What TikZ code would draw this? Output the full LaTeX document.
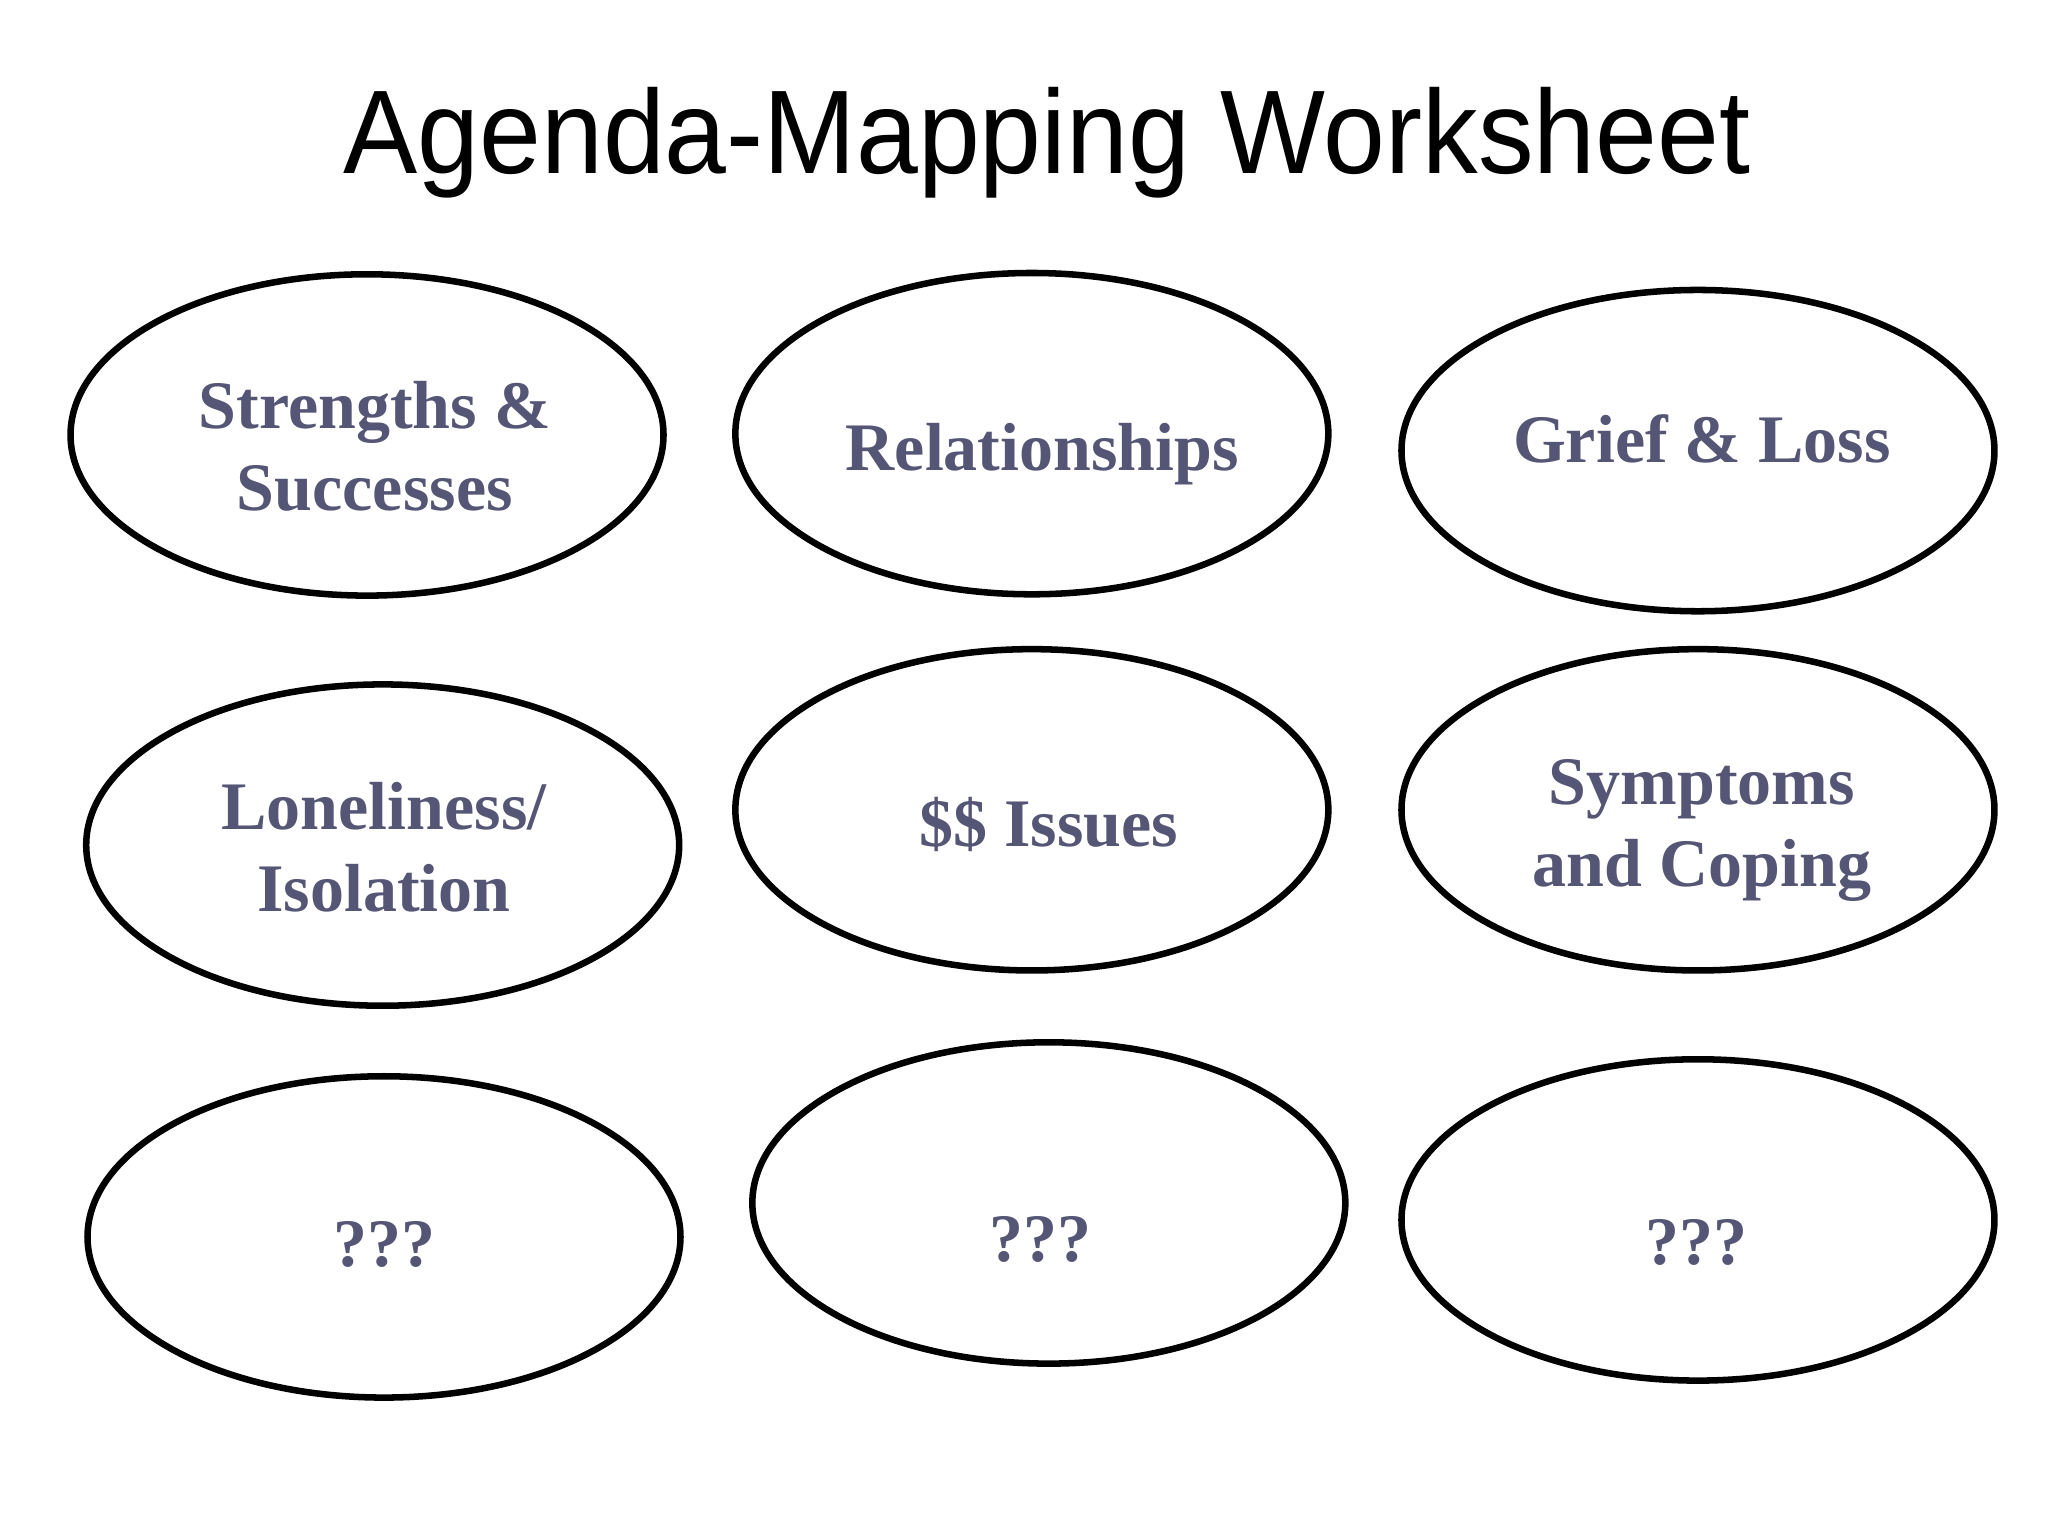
\documentclass[tikz,border=0pt]{standalone}
\usepackage{fontspec}
\setmainfont{Liberation Serif}
\newfontfamily\titlefont[FakeStretch=0.934]{Liberation Sans}
\usetikzlibrary{shapes.geometric}

\newlength{\du}
\setlength{\du}{0.653061pt}
\definecolor{topiccolor}{rgb}{0.333333, 0.333333, 0.462745}

\tikzset{
  topic/.style={ellipse, draw=black, line width=5\du, fill=white,
    minimum width=454\du, minimum height=246\du, inner sep=0pt},
  topictext/.style={font=\fontsize{34}{41}\selectfont\bfseries,
    text=topiccolor, align=center, inner sep=0pt},
}

\begin{document}
\begin{tikzpicture}
\pgftransformxscale{1.000000}
\pgftransformyscale{-1.000000}
% page
\fill[white] (0\du,0\du) rectangle (1568\du,1176\du);
\useasboundingbox (0\du,0\du) rectangle (1568\du,1176\du);
% heading
\node[anchor=base, inner sep=0pt, font=\titlefont\fontsize{59.5}{70}\selectfont]
  (title) at (801.5\du,133\du) {Agenda-Mapping Worksheet};
% first row
\node[topic] (strengths) at (281\du,333\du) {};
\node[topic] (relations) at (790\du,332\du) {};
\node[topic] (grief) at (1300\du,345\du) {};
% second row
\node[topic] (lonely) at (293\du,647\du) {};
\node[topic] (money) at (790\du,620\du) {};
\node[topic] (symptoms) at (1300\du,620\du) {};
% third row
\node[topic] (open1) at (294\du,947\du) {};
\node[topic] (open2) at (803\du,921\du) {};
\node[topic] (open3) at (1300\du,934\du) {};
% labels
\node[topictext] (strengthslbl) at (287\du,342\du) {Strengths \&\\Successes};
\node[topictext, anchor=base] (relationslbl) at (798\du,360\du) {Relationships};
\node[topictext, anchor=base] (grieflbl) at (1303\du,354\du) {Grief \& Loss};
\node[topictext] (lonelylbl) at (294\du,649\du) {Loneliness/\\Isolation};
\node[topictext, anchor=base] (moneylbl) at (803\du,648\du) {\$\$ Issues};
\node[topictext] (symptomslbl) at (1303\du,635.5\du) {Symptoms\\and Coping};
\node[topictext, anchor=base] (open1lbl) at (294\du,970\du) {???};
\node[topictext, anchor=base] (open2lbl) at (797\du,966\du) {???};
\node[topictext, anchor=base] (open3lbl) at (1299\du,968\du) {???};
\end{tikzpicture}
\end{document}
